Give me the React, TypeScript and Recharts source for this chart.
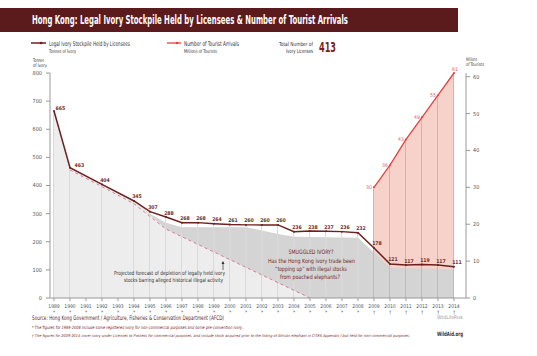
import { Area, Bar, ComposedChart, LabelList, Line, XAxis, YAxis } from 'recharts'

const FONT = "'Liberation Sans Narrow', 'DejaVu Sans Condensed', 'Arial Narrow', sans-serif"
const MAROON = '#6e1f1f'
const RED = '#e2433d'

const years = [
	1989, 1990, 1991, 1992, 1993, 1994, 1995, 1996, 1997, 1998, 1999, 2000, 2001,
	2002, 2003, 2004, 2005, 2006, 2007, 2008, 2009, 2010, 2011, 2012, 2013, 2014,
]

// tonnes of ivory held by licensees (labelled values)
const stockpile = [
	665, 463, null, 404, null, 345, 307, 288, 268, 268, 264, 261, 260, 260, 260, 236,
	238, 237, 236, 232, 178, 121, 117, 119, 117, 111,
]

// millions of tourist arrivals
const tourists = [
	null, null, null, null, null, null, null, null, null, null, null, null, null,
	null, null, null, null, null, null, null, 30, 36, 43, 49, 55, 61,
]

// projected depletion (dashed line)
const projected = [
	null, 455, null, 396, null, 335, null, 245, null, null, null, null, null, null,
	null, null, 0, null, null, null, null, null, null, null, null, null,
]

// light grey fill: actual stock until 1994, then the projection
const forecastFill = [
	665, 463, null, 404, null, 345, null, 245, null, null, null, null, null, null,
	null, null, 0, null, null, null, null, null, null, null, null, null,
]

// darker grey "smuggled" band sitting just under the stockpile line
const smuggledBand = [
	null, null, null, null, null, 345, 300, 268, 252, null, null, null, 252, null,
	228, 218, null, null, null, 214, 162, 108, null, null, null, 102,
]

const leftTicks = [0, 100, 200, 300, 400, 500, 600, 700, 800]
const rightTicks = [0, 10, 20, 30, 40, 50, 60]

const data = years.map((year, i) => ({
	year,
	stockpile: stockpile[i],
	tourists: tourists[i],
	projected: projected[i],
	forecastFill: forecastFill[i],
	smuggledBand: smuggledBand[i],
}))

function YearTick({ x, y, payload }: any) {
	const mark = payload.value >= 2009 ? '†' : '*'
	return (
		<g>
			<text x={x} y={y + 5} textAnchor='middle' fontSize={5} fill='#555' fontFamily={FONT}>
				{payload.value}
			</text>
			<text x={x} y={y + 10.5} textAnchor='middle' fontSize={5} fill='#555' fontFamily={FONT}>
				{mark}
			</text>
		</g>
	)
}

function StockLabel({ x, y, value, index }: any) {
	if (value == null || x == null) return null
	let lx = x + 3
	let anchor = 'middle'
	let ly = y - 2.5
	if (index === 0) {
		lx = x + 1.5
		anchor = 'start'
		ly = y - 1
	} else if (index === 1) {
		lx = x + 4.5
		anchor = 'start'
		ly = y - 1
	}
	return (
		<text x={lx} y={ly} textAnchor={anchor} fontSize={5.2} fontWeight='bold' fill='#7a2a22' fontFamily={FONT}>
			{value}
		</text>
	)
}

function TouristLabel({ x, y, value, index }: any) {
	if (value == null || x == null) return null
	if (index === years.length - 1) {
		return (
			<text x={x + 1} y={y - 2.5} textAnchor='middle' fontSize={5.2} fill='#e8604f' fontFamily={FONT}>
				{value}
			</text>
		)
	}
	return (
		<text x={x - 2} y={y + 2} textAnchor='end' fontSize={5.2} fill='#e8604f' fontFamily={FONT}>
			{value}
		</text>
	)
}

function T({ x, y, w, size, children, fill = '#333', bold = false, italic = false, anchor = 'start' }: any) {
	return (
		<text
			x={x}
			y={y}
			fontSize={size}
			fill={fill}
			fontFamily={FONT}
			fontWeight={bold ? 'bold' : 'normal'}
			fontStyle={italic ? 'italic' : 'normal'}
			textAnchor={anchor}
			textLength={w}
			lengthAdjust='spacingAndGlyphs'
		>
			{children}
		</text>
	)
}

export default function App() {
	return (
		<div style={{ position: 'absolute', left: 0, top: 0, width: 537, height: 356, background: '#fff' }}>
			<ComposedChart
				width={537}
				height={356}
				data={data}
				margin={{ top: 73, right: 0, bottom: 38, left: 0 }}
				barGap={-1}
			>
				<XAxis
					dataKey='year'
					type='number'
					domain={[1988.75, 2014.75]}
					ticks={years}
					interval={0}
					height={20}
					tick={<YearTick />}
					tickSize={3}
					tickMargin={2}
					axisLine={{ stroke: '#999' }}
					tickLine={{ stroke: '#999' }}
				/>
				<YAxis
					yAxisId='left'
					domain={[0, 800]}
					ticks={leftTicks}
					width={50}
					tickSize={4}
					tickMargin={4}
					axisLine={{ stroke: '#bbb', strokeWidth: 1.5 }}
					tickLine={{ stroke: '#999' }}
					tick={{ fontSize: 5.5, fill: '#555', fontFamily: FONT }}
				/>
				<YAxis
					yAxisId='right'
					orientation='right'
					domain={[0, 60]}
					ticks={rightTicks}
					width={71}
					tickSize={4}
					tickMargin={3}
					axisLine={{ stroke: '#999' }}
					tickLine={{ stroke: '#999' }}
					tick={{ fontSize: 5.5, fill: '#555', fontFamily: FONT }}
				/>
				<Area
					yAxisId='right'
					dataKey='tourists'
					type='linear'
					stroke='none'
					fill='#f6d2cb'
					fillOpacity={1}
					connectNulls
					isAnimationActive={false}
				/>
				<Area
					yAxisId='left'
					dataKey='smuggledBand'
					type='linear'
					stroke='none'
					fill='#d4d4d4'
					fillOpacity={1}
					connectNulls
					isAnimationActive={false}
				/>
				<Area
					yAxisId='left'
					dataKey='forecastFill'
					type='linear'
					stroke='none'
					fill='#ededed'
					fillOpacity={1}
					connectNulls
					isAnimationActive={false}
				/>
				<Bar yAxisId='left' dataKey='stockpile' barSize={1} fill='#dadada' isAnimationActive={false} />
				<Bar yAxisId='right' dataKey='tourists' barSize={1} fill='#eaaaa1' isAnimationActive={false} />
				<Line
					yAxisId='left'
					dataKey='projected'
					type='linear'
					stroke='#de7a93'
					strokeWidth={1}
					strokeDasharray='3 3'
					dot={false}
					connectNulls
					isAnimationActive={false}
				/>
				<Line
					yAxisId='right'
					dataKey='tourists'
					type='linear'
					stroke={RED}
					strokeWidth={1.3}
					dot={{ r: 1, fill: RED, stroke: 'none' }}
					connectNulls
					isAnimationActive={false}
				>
					<LabelList dataKey='tourists' content={<TouristLabel />} />
				</Line>
				<Line
					yAxisId='left'
					dataKey='stockpile'
					type='linear'
					stroke={MAROON}
					strokeWidth={1.5}
					dot={{ r: 1, fill: MAROON, stroke: 'none' }}
					connectNulls
					isAnimationActive={false}
				>
					<LabelList dataKey='stockpile' content={<StockLabel />} />
				</Line>
			</ComposedChart>

			<svg width={537} height={356} style={{ position: 'absolute', left: 0, top: 0, pointerEvents: 'none' }}>
				<rect x={0} y={8} width={458} height={24} fill='#5b1a1b' />
				<T x={32} y={23.5} w={316} size={11.5} fill='#fff' bold>
					Hong Kong: Legal Ivory Stockpile Held by Licensees &amp; Number of Tourist Arrivals
				</T>

				<line x1={31} y1={43} x2={46} y2={43} stroke={MAROON} strokeWidth={1.5} />
				<circle cx={41} cy={43} r={1.3} fill={MAROON} />
				<T x={49} y={45.5} w={81} size={6.5}>Legal Ivory Stockpile Held by Licensees</T>
				<T x={49} y={52.5} w={27} size={5}>Tonnes of Ivory</T>

				<line x1={167} y1={43} x2={181} y2={43} stroke={RED} strokeWidth={1.3} />
				<circle cx={177} cy={43} r={1.3} fill={RED} />
				<T x={184} y={45.5} w={55} size={6.5}>Number of Tourist Arrivals</T>
				<T x={184} y={52.5} w={33} size={5}>Millions of Tourists</T>

				<T x={313} y={45.5} w={34} size={5.6} anchor='end'>Total Number of</T>
				<T x={313} y={53} w={27} size={5.6} anchor='end'>Ivory Licenses</T>
				<T x={319} y={51.5} w={17} size={14} fill='#7a1f1f' bold>413</T>

				<T x={33} y={61.5} w={11} size={4.8}>Tonnes</T>
				<T x={33} y={66.5} w={14} size={4.8}>of Ivory</T>
				<T x={466} y={61} w={11} size={4.8}>Millions</T>
				<T x={466} y={66} w={18} size={4.8}>of Tourists</T>

				<T x={169.5} y={275} w={111} size={5.6} anchor='middle'>
					Projected forecast of depletion of legally held ivory
				</T>
				<T x={173.5} y={281.5} w={99} size={5.6} anchor='middle'>
					stocks barring alleged historical illegal activity
				</T>
				<line x1={223} y1={262} x2={223} y2={270} stroke='#333' strokeWidth={0.7} />
				<path d='M221.5,264 L223,261 L224.5,264 Z' fill='#333' />

				<T x={311} y={254} w={45} size={6} fill='#7a1f1f' anchor='middle'>SMUGGLED IVORY?</T>
				<T x={311.5} y={262.5} w={87} size={6} fill='#7a1f1f' anchor='middle'>
					Has the Hong Kong ivory trade been
				</T>
				<T x={311} y={271} w={72} size={6} fill='#7a1f1f' anchor='middle'>
					“topping up” with illegal stocks
				</T>
				<T x={310} y={279} w={60} size={6} fill='#7a1f1f' anchor='middle'>
					from poached elephants?
				</T>

				<T x={32} y={319.5} w={192} size={6.3} fill='#5a1f1f'>
					Source: Hong Kong Government / Agriculture, Fisheries &amp; Conservation Department (AFCD)
				</T>
				<T x={32} y={329} w={211} size={4.4} fill='#7a1f1f' italic>
					* The figures for 1989-2008 include some registered ivory for non-commercial purposes and some pre-convention ivory.
				</T>
				<T x={32} y={337} w={378} size={3.9} fill='#7a1f1f' italic>
					† The figures for 2009-2014 cover ivory under Licenses to Possess for commercial purposes, and include stock acquired prior to the listing of African elephant in CITES Appendix I but held for non-commercial purposes.
				</T>
				<T x={437} y={319} w={26} size={5} fill='#999'>WildLifeRisk</T>
				<T x={437} y={336} w={26} size={6} fill='#333' bold>WildAid.org</T>
			</svg>
		</div>
	)
}
